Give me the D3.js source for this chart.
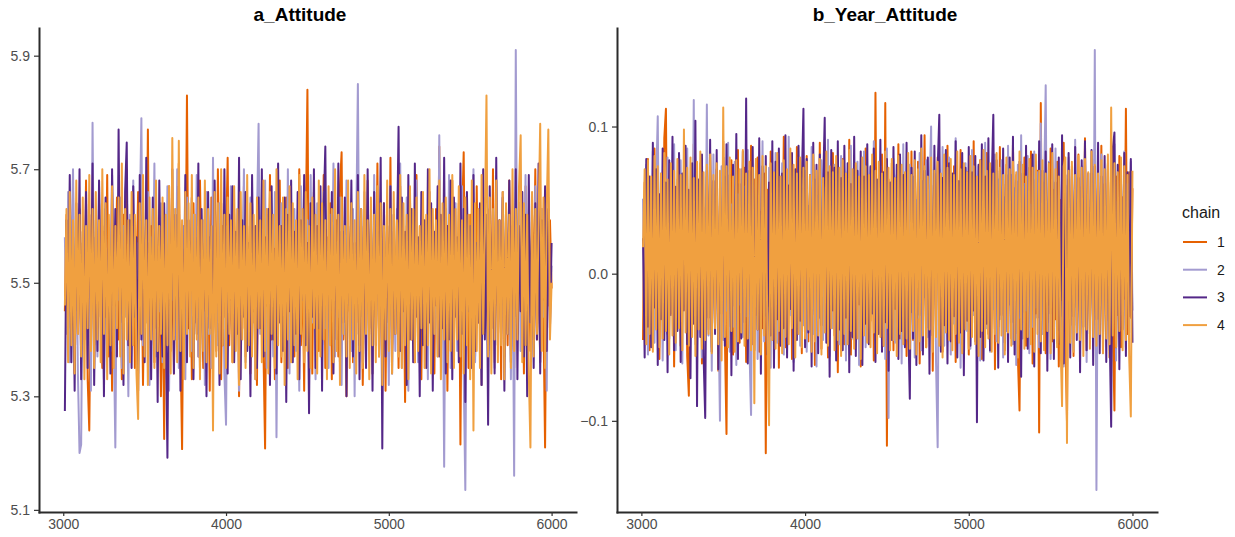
<!DOCTYPE html>
<html>
<head>
<meta charset="utf-8">
<script src="https://cdn.jsdelivr.net/npm/d3@7"></script>
<style>
  body { margin: 0; background: #fff; }
  text { font-family: "Liberation Sans", Arial, sans-serif; }
</style>
</head>
<body>
<svg id="chart" width="1235" height="537"></svg>
<script>
// trace plot, 4 chains, draws 3001-6000 (every 10th draw)
const chains = ["1", "2", "3", "4"];
const chainColors = ["#E66101", "#A39BD0", "#542788", "#F0A040"];
const thin = 10;
const iterFirst = 3001, iterLast = 6000;
const xTicks = [3000, 4000, 5000, 6000];
const aTicks = [5.1, 5.3, 5.5, 5.7, 5.9];
const bTicks = [-0.1, 0, 0.1];

// a_Attitude
const aChain1 = [
  5.45,5.62,5.38,5.58,5.49,5.66,5.34,5.55,5.41,5.63,5.36,5.57,5.47,5.68,5.33,5.24,5.52,5.61,5.39,5.56,
  5.42,5.64,5.51,5.35,5.59,5.44,5.69,5.37,5.54,5.31,5.6,5.46,5.65,5.4,5.53,5.33,5.62,5.48,5.7,5.38,
  5.57,5.43,5.61,5.35,5.5,5.66,5.41,5.58,5.32,5.55,5.45,5.77,5.39,5.6,5.47,5.36,5.63,5.42,5.56,5.3,
  5.52,5.225,5.6,5.44,5.67,5.38,5.55,5.34,5.62,5.48,5.71,5.4,5.207,5.58,5.46,5.83,5.42,5.57,5.33,5.64,
  5.45,5.59,5.37,5.68,5.5,5.35,5.61,5.43,5.56,5.31,5.65,5.41,5.54,5.38,5.7,5.47,5.33,5.6,5.44,5.57,
  5.72,5.39,5.53,5.36,5.63,5.46,5.58,5.3,5.55,5.42,5.67,5.37,5.6,5.49,5.34,5.64,5.43,5.57,5.32,5.66,
  5.44,5.59,5.38,5.208,5.62,5.47,5.69,5.4,5.55,5.33,5.61,5.45,5.68,5.36,5.52,5.42,5.65,5.35,5.58,5.48,
  5.63,5.37,5.56,5.43,5.7,5.39,5.54,5.31,5.6,5.84,5.41,5.57,5.34,5.66,5.46,5.52,5.38,5.62,5.44,5.69,
  5.35,5.58,5.42,5.64,5.33,5.55,5.47,5.61,5.37,5.67,5.73,5.4,5.53,5.3,5.59,5.45,5.63,5.36,5.56,5.43,
  5.66,5.39,5.6,5.32,5.54,5.48,5.68,5.41,5.57,5.34,5.62,5.44,5.71,5.37,5.55,5.46,5.64,5.31,5.58,5.42,
  5.72,5.38,5.53,5.45,5.61,5.35,5.67,5.43,5.56,5.29,5.6,5.48,5.65,5.4,5.52,5.36,5.69,5.44,5.58,5.33,
  5.62,5.47,5.55,5.38,5.66,5.42,5.59,5.34,5.63,5.45,5.74,5.37,5.54,5.41,5.6,5.31,5.57,5.46,5.68,5.39,
  5.56,5.44,5.64,5.215,5.61,5.73,5.4,5.58,5.35,5.62,5.47,5.53,5.37,5.67,5.43,5.59,5.32,5.65,5.45,5.55,
  5.38,5.63,5.42,5.7,5.36,5.57,5.46,5.61,5.33,5.66,5.44,5.54,5.39,5.68,5.48,5.6,5.35,5.58,5.41,5.64,
  5.45,5.59,5.34,5.67,5.43,5.56,5.38,5.62,5.47,5.7,5.4,5.55,5.36,5.63,5.44,5.21,5.58,5.46,5.61,5.49
];
const aChain2 = [
  5.58,5.41,5.66,5.36,5.53,5.7,5.44,5.6,5.34,5.2,5.215,5.57,5.46,5.64,5.39,5.55,5.31,5.782,5.43,5.61,
  5.37,5.67,5.48,5.59,5.33,5.63,5.45,5.54,5.38,5.69,5.42,5.21,5.56,5.47,5.65,5.35,5.6,5.44,5.52,5.3,
  5.62,5.4,5.68,5.46,5.57,5.34,5.61,5.79,5.39,5.55,5.43,5.66,5.32,5.58,5.48,5.71,5.37,5.53,5.45,5.64,
  5.36,5.59,5.42,5.67,5.31,5.56,5.47,5.63,5.4,5.7,5.35,5.54,5.44,5.6,5.33,5.65,5.49,5.57,5.38,5.62,
  5.43,5.69,5.37,5.55,5.46,5.61,5.32,5.66,5.41,5.58,5.35,5.72,5.44,5.53,5.39,5.64,5.47,5.57,5.34,5.25,
  5.6,5.42,5.67,5.38,5.56,5.45,5.63,5.31,5.59,5.48,5.7,5.36,5.54,5.43,5.65,5.4,5.58,5.33,5.61,5.78,
  5.41,5.57,5.46,5.68,5.35,5.62,5.44,5.55,5.37,5.66,5.228,5.59,5.48,5.64,5.39,5.53,5.42,5.7,5.34,5.6,
  5.45,5.63,5.38,5.56,5.31,5.67,5.47,5.58,5.4,5.61,5.36,5.69,5.43,5.55,5.33,5.64,5.46,5.6,5.39,5.66,
  5.42,5.54,5.35,5.62,5.48,5.71,5.37,5.57,5.44,5.65,5.32,5.59,5.41,5.68,5.46,5.56,5.38,5.63,5.3,5.6,
  5.85,5.43,5.58,5.36,5.66,5.47,5.55,5.39,5.62,5.34,5.69,5.45,5.57,5.41,5.64,5.37,5.6,5.48,5.53,5.32,
  5.67,5.44,5.59,5.38,5.63,5.46,5.71,5.35,5.56,5.42,5.65,5.31,5.58,5.47,5.61,5.4,5.68,5.36,5.54,5.45,
  5.62,5.39,5.57,5.33,5.66,5.48,5.6,5.41,5.55,5.37,5.76,5.44,5.58,5.176,5.63,5.46,5.69,5.35,5.56,5.42,
  5.64,5.38,5.59,5.45,5.67,5.34,5.135,5.61,5.47,5.55,5.4,5.7,5.36,5.57,5.43,5.62,5.32,5.65,5.46,5.58,
  5.39,5.63,5.44,5.56,5.35,5.68,5.48,5.6,5.41,5.66,5.37,5.54,5.45,5.62,5.33,5.59,5.16,5.91,5.42,5.64,
  5.38,5.57,5.46,5.69,5.34,5.61,5.43,5.55,5.4,5.67,5.47,5.58,5.36,5.63,5.44,5.6,5.31,5.65,5.45,5.53
];
const aChain3 = [
  5.274,5.61,5.42,5.69,5.36,5.57,5.31,5.64,5.45,5.7,5.33,5.59,5.4,5.66,5.35,5.62,5.47,5.71,5.32,5.58,
  5.38,5.68,5.44,5.6,5.3,5.65,5.41,5.56,5.34,5.7,5.46,5.63,5.37,5.77,5.43,5.59,5.32,5.66,5.747,5.39,
  5.61,5.35,5.67,5.44,5.58,5.31,5.69,5.4,5.63,5.36,5.72,5.45,5.57,5.33,5.65,5.42,5.6,5.29,5.68,5.47,
  5.37,5.64,5.43,5.192,5.59,5.46,5.7,5.34,5.62,5.4,5.67,5.31,5.56,5.44,5.69,5.36,5.61,5.48,5.65,5.33,
  5.58,5.41,5.71,5.35,5.63,5.45,5.57,5.3,5.66,5.42,5.6,5.37,5.68,5.46,5.55,5.32,5.64,5.39,5.7,5.43,
  5.34,5.62,5.47,5.67,5.36,5.59,5.41,5.72,5.33,5.61,5.44,5.66,5.38,5.57,5.3,5.69,5.45,5.6,5.35,5.65,
  5.42,5.7,5.37,5.58,5.46,5.63,5.32,5.67,5.4,5.56,5.34,5.71,5.43,5.6,5.38,5.65,5.29,5.62,5.45,5.68,
  5.36,5.59,5.41,5.66,5.33,5.61,5.47,5.69,5.39,5.57,5.27,5.64,5.44,5.7,5.35,5.6,5.42,5.67,5.31,5.63,
  5.74,5.38,5.58,5.45,5.66,5.34,5.62,5.4,5.71,5.36,5.59,5.43,5.65,5.3,5.6,5.46,5.68,5.37,5.57,5.41,
  5.69,5.33,5.63,5.44,5.58,5.35,5.7,5.42,5.61,5.31,5.66,5.39,5.59,5.46,5.72,5.208,5.64,5.37,5.6,5.43,
  5.67,5.34,5.62,5.41,5.57,5.775,5.38,5.65,5.45,5.59,5.32,5.69,5.4,5.63,5.36,5.71,5.44,5.58,5.3,5.66,
  5.39,5.61,5.35,5.7,5.43,5.64,5.31,5.59,5.46,5.67,5.37,5.62,5.42,5.72,5.34,5.6,5.4,5.68,5.33,5.65,
  5.44,5.58,5.36,5.71,5.41,5.63,5.29,5.66,5.45,5.6,5.35,5.69,5.38,5.57,5.43,5.64,5.32,5.7,5.4,5.62,
  5.25,5.67,5.42,5.59,5.34,5.72,5.39,5.61,5.46,5.65,5.31,5.63,5.41,5.68,5.36,5.58,5.44,5.7,5.33,5.6,
  5.45,5.66,5.37,5.62,5.3,5.69,5.43,5.59,5.35,5.64,5.4,5.71,5.34,5.61,5.47,5.67,5.38,5.63,5.42,5.57
];
const aChain4 = [
  5.46,5.63,5.36,5.66,5.39,5.61,5.34,5.68,5.41,5.62,5.37,5.65,5.33,5.6,5.42,5.69,5.38,5.63,5.35,5.66,
  5.4,5.61,5.36,5.7,5.41,5.64,5.33,5.62,5.39,5.67,5.35,5.6,5.42,5.65,5.37,5.71,5.34,5.63,5.4,5.61,
  5.36,5.66,5.39,5.62,5.34,5.26,5.64,5.41,5.69,5.37,5.61,5.32,5.65,5.4,5.63,5.35,5.68,5.38,5.6,5.41,
  5.65,5.35,5.62,5.39,5.67,5.34,5.755,5.4,5.63,5.36,5.75,5.38,5.61,5.33,5.66,5.41,5.64,5.37,5.69,5.35,
  5.62,5.4,5.65,5.33,5.61,5.38,5.68,5.36,5.63,5.41,5.6,5.24,5.66,5.37,5.64,5.34,5.7,5.39,5.62,5.35,
  5.65,5.41,5.61,5.36,5.67,5.38,5.63,5.32,5.66,5.4,5.6,5.35,5.69,5.39,5.64,5.37,5.62,5.33,5.65,5.42,
  5.61,5.36,5.68,5.38,5.63,5.34,5.66,5.41,5.62,5.35,5.7,5.39,5.6,5.37,5.65,5.32,5.63,5.4,5.67,5.36,
  5.64,5.39,5.61,5.33,5.69,5.41,5.63,5.36,5.66,5.38,5.6,5.35,5.65,5.42,5.62,5.34,5.68,5.37,5.64,5.4,
  5.61,5.33,5.67,5.39,5.63,5.36,5.7,5.38,5.62,5.32,5.65,5.41,5.6,5.37,5.68,5.35,5.64,5.4,5.61,5.34,
  5.66,5.38,5.63,5.35,5.69,5.41,5.61,5.33,5.65,5.39,5.62,5.36,5.67,5.37,5.64,5.32,5.6,5.4,5.68,5.38,
  5.63,5.34,5.66,5.41,5.61,5.37,5.69,5.35,5.64,5.39,5.62,5.33,5.67,5.4,5.63,5.36,5.65,5.38,5.6,5.42,
  5.66,5.35,5.62,5.39,5.7,5.34,5.63,5.41,5.61,5.37,5.68,5.33,5.64,5.4,5.65,5.36,5.62,5.38,5.69,5.35,
  5.63,5.4,5.67,5.37,5.61,5.34,5.65,5.39,5.62,5.33,5.68,5.24,5.64,5.38,5.63,5.35,5.69,5.41,5.6,5.83,
  5.37,5.65,5.34,5.63,5.4,5.68,5.36,5.61,5.39,5.66,5.33,5.64,5.41,5.62,5.35,5.7,5.38,5.63,5.4,5.67,
  5.76,5.36,5.64,5.39,5.62,5.34,5.21,5.66,5.37,5.63,5.41,5.61,5.78,5.38,5.65,5.35,5.63,5.77,5.4,5.5
];

// b_Year_Attitude
const bChain1 = [
  -0.045,0.062,-0.021,0.078,-0.052,0.041,-0.036,0.085,-0.012,0.067,-0.058,0.049,-0.029,0.092,0.112,-0.041,0.056,-0.018,0.073,-0.063,
  0.038,-0.027,0.081,-0.049,0.058,-0.015,0.069,-0.056,-0.083,0.047,-0.032,0.088,-0.044,0.061,-0.024,0.075,-0.061,0.043,-0.011,0.066,
  -0.038,0.082,-0.05,0.054,-0.02,0.071,-0.066,0.046,-0.03,0.09,-0.043,-0.109,0.063,-0.025,0.077,-0.055,0.039,-0.014,0.084,-0.047,
  0.059,-0.034,0.072,-0.06,0.045,-0.019,0.087,-0.048,0.064,-0.028,0.079,-0.053,0.042,-0.037,0.068,-0.122,0.057,-0.022,0.083,-0.045,
  0.051,-0.031,0.076,-0.064,0.044,-0.017,0.093,-0.05,0.06,-0.026,0.071,-0.058,0.037,-0.04,0.086,-0.023,0.065,-0.054,0.048,-0.035,
  0.08,-0.046,0.055,-0.013,0.074,-0.062,0.041,-0.029,0.089,-0.051,0.063,-0.02,0.069,-0.057,0.046,-0.033,0.082,-0.042,0.058,-0.067,
  0.036,-0.024,0.078,-0.048,0.066,-0.016,0.091,-0.055,0.05,-0.038,0.073,-0.027,0.061,-0.063,0.044,-0.021,0.085,-0.046,0.057,-0.032,
  0.07,-0.059,0.123,-0.036,0.052,-0.018,0.081,-0.049,0.116,-0.117,0.064,-0.026,0.075,-0.052,0.043,-0.035,0.088,-0.044,0.059,-0.02,
  0.068,-0.056,0.047,-0.03,0.083,-0.045,0.062,-0.015,0.076,-0.061,0.039,-0.028,0.094,-0.05,0.055,-0.023,0.071,-0.066,0.048,-0.037,
  0.079,-0.025,0.06,-0.053,0.045,-0.019,0.087,-0.043,0.066,-0.032,0.073,-0.06,0.051,-0.014,0.084,-0.048,0.058,-0.027,0.069,-0.055,
  0.042,-0.034,0.09,-0.046,0.063,-0.022,0.077,-0.058,0.049,-0.03,0.082,-0.041,0.056,-0.017,0.072,-0.065,0.04,-0.036,0.086,-0.024,
  0.061,-0.052,0.074,-0.029,0.053,-0.044,0.088,-0.02,0.067,-0.057,-0.093,0.046,-0.033,0.079,-0.049,0.058,-0.016,0.083,-0.061,0.044,
  -0.027,0.07,-0.108,0.116,-0.039,0.062,-0.054,0.047,-0.021,0.085,-0.046,0.057,-0.031,0.076,-0.063,0.05,-0.018,0.089,-0.042,-0.1,
  0.064,-0.035,0.073,-0.056,0.048,-0.023,0.081,-0.047,0.059,-0.015,0.092,-0.052,0.045,-0.038,0.068,-0.026,0.078,-0.06,0.054,-0.031,
  0.087,-0.044,0.061,-0.02,0.074,-0.057,0.043,-0.034,-0.093,0.066,-0.028,0.08,-0.05,0.052,-0.017,0.112,-0.041,0.069,-0.03,0.058
];
const bChain2 = [
  0.051,-0.038,0.074,-0.055,0.046,-0.022,0.083,-0.047,0.06,0.107,-0.031,0.068,-0.059,0.042,-0.016,0.079,-0.044,0.057,-0.027,0.088,
  -0.052,0.064,-0.035,0.077,-0.061,0.049,-0.019,0.085,-0.04,0.055,-0.028,0.118,-0.048,0.07,-0.033,0.062,-0.057,0.045,-0.024,0.115,
  -0.042,0.058,-0.066,0.081,-0.03,0.052,-0.018,-0.1,0.073,-0.045,0.066,-0.025,0.089,-0.053,0.047,-0.036,0.076,-0.062,0.054,-0.021,
  0.071,-0.043,0.059,-0.029,0.084,-0.05,-0.096,0.063,-0.034,0.078,-0.058,0.044,-0.019,0.09,-0.046,0.056,-0.026,0.072,-0.064,0.048,
  -0.032,0.082,-0.047,0.061,-0.022,0.075,-0.055,0.05,-0.038,0.093,-0.028,0.067,-0.06,0.043,-0.015,0.079,-0.049,0.058,-0.035,0.07,
  -0.053,0.046,-0.024,0.086,-0.041,0.064,-0.063,0.053,-0.03,0.077,-0.045,0.06,-0.02,0.091,-0.056,0.047,-0.037,0.074,-0.026,0.065,
  -0.048,0.08,-0.033,0.055,-0.059,0.069,-0.021,0.087,-0.044,0.051,-0.031,0.076,-0.062,0.058,-0.018,0.083,-0.05,0.063,-0.036,0.072,
  -0.027,0.09,-0.054,0.048,-0.04,0.073,-0.023,0.061,-0.058,0.085,-0.098,0.056,-0.032,0.078,-0.047,0.067,-0.019,0.054,-0.061,0.088,
  -0.035,0.059,-0.045,0.074,-0.026,0.066,-0.057,0.05,-0.03,0.082,-0.052,0.063,-0.016,0.077,-0.043,0.055,0.1,-0.038,0.068,-0.06,
  -0.118,0.071,-0.029,0.086,-0.049,0.057,-0.022,0.079,-0.055,0.045,-0.034,0.092,-0.046,0.062,-0.064,0.052,-0.02,0.075,-0.039,0.066,
  -0.051,0.084,-0.028,0.06,-0.042,0.073,-0.059,0.049,-0.017,0.089,-0.037,0.056,-0.053,0.07,-0.024,0.081,-0.046,0.064,-0.031,0.077,
  -0.057,0.052,-0.039,0.087,-0.021,0.067,-0.048,0.058,-0.062,0.074,-0.03,0.094,-0.044,0.061,-0.025,0.08,-0.054,0.047,-0.036,0.083,
  -0.023,0.069,-0.05,0.102,-0.041,0.056,0.128,-0.033,0.076,-0.058,0.063,-0.019,0.085,-0.047,0.053,-0.029,0.072,-0.063,0.06,-0.038,
  0.079,-0.026,0.066,-0.052,0.091,-0.035,0.058,-0.045,0.073,-0.018,0.084,-0.06,0.05,-0.031,0.068,-0.043,0.152,-0.147,0.062,-0.024,
  0.081,-0.054,0.057,-0.032,0.075,-0.047,0.064,-0.021,0.088,-0.059,0.049,-0.036,0.07,-0.028,0.083,-0.05,0.061,-0.04,0.076,-0.025
];
const bChain3 = [
  0.024,-0.057,0.078,-0.036,0.066,-0.05,0.089,-0.023,0.071,-0.062,0.054,-0.031,0.085,-0.045,0.062,-0.067,0.077,-0.028,0.093,-0.052,
  0.059,-0.039,0.082,-0.06,0.068,-0.025,0.087,-0.048,0.057,-0.071,0.075,-0.034,0.104,-0.09,0.064,-0.043,0.081,-0.056,-0.098,0.07,
  -0.03,0.091,-0.053,0.063,-0.041,0.084,-0.065,0.058,-0.027,0.079,-0.049,0.088,-0.036,0.067,-0.069,0.074,-0.022,0.095,-0.058,0.061,
  -0.044,0.083,-0.033,0.119,-0.061,0.07,-0.026,0.086,-0.052,0.065,-0.038,0.092,-0.068,0.073,-0.029,0.08,-0.055,0.062,-0.042,0.09,
  -0.064,0.076,-0.031,0.085,-0.049,0.068,-0.037,0.094,-0.057,0.06,-0.024,0.082,-0.066,0.071,-0.045,0.087,-0.032,0.063,0.112,-0.05,
  0.078,-0.04,0.067,-0.063,0.089,-0.028,0.074,-0.054,0.081,-0.035,0.058,0.106,-0.047,0.069,-0.07,0.084,-0.025,0.072,-0.059,0.09,
  -0.038,0.065,-0.052,0.087,-0.03,0.075,-0.067,0.061,-0.043,0.093,-0.056,0.07,-0.021,0.083,-0.062,0.066,-0.034,0.088,-0.048,0.073,
  -0.027,0.085,-0.06,0.064,-0.041,0.091,-0.053,0.069,-0.033,0.078,-0.066,0.062,-0.045,0.086,-0.024,0.074,-0.058,0.081,-0.039,0.067,
  -0.05,0.089,-0.031,-0.085,0.072,-0.044,0.083,-0.062,0.066,-0.028,0.094,-0.055,0.07,-0.037,0.079,-0.068,0.06,-0.042,0.087,-0.026,
  0.071,0.108,-0.053,0.065,-0.035,0.084,-0.061,0.075,-0.046,0.068,-0.029,0.09,-0.057,0.063,-0.04,0.082,-0.069,0.072,-0.032,0.086,
  -0.049,0.069,-0.025,0.08,-0.101,0.074,-0.043,0.088,-0.059,0.066,-0.034,0.092,-0.052,0.061,0.108,-0.038,0.077,-0.064,0.07,-0.028,
  0.085,-0.047,0.067,-0.06,0.079,-0.033,0.093,-0.055,0.063,-0.041,0.076,-0.07,0.068,-0.026,0.087,-0.051,0.072,-0.037,0.081,-0.063,
  0.064,-0.03,0.09,-0.054,0.07,-0.044,0.083,-0.066,0.075,-0.027,0.088,-0.058,0.062,-0.039,0.079,-0.048,0.094,-0.061,0.067,-0.035,
  0.082,-0.057,0.071,-0.029,0.086,-0.045,0.065,-0.067,0.077,-0.036,0.09,-0.052,0.068,-0.041,0.084,-0.062,0.073,-0.031,0.089,-0.054,
  0.066,-0.043,0.08,-0.06,0.071,-0.034,-0.104,0.085,0.096,-0.05,0.074,-0.065,0.063,-0.038,0.082,-0.056,0.069,-0.029,0.078,-0.047
];
const bChain4 = [
  0.018,0.071,-0.048,0.077,-0.041,0.066,-0.053,0.08,-0.038,0.073,-0.05,0.068,-0.044,0.082,-0.039,0.064,-0.055,0.075,-0.042,0.07,
  -0.047,0.078,-0.037,0.067,-0.052,0.098,-0.04,0.072,-0.049,0.079,-0.043,0.065,-0.056,0.076,-0.038,0.083,-0.051,0.069,-0.045,0.074,
  -0.041,0.081,-0.054,0.067,-0.037,0.075,-0.048,0.07,-0.059,0.113,-0.043,0.073,-0.05,0.079,-0.039,0.066,-0.053,0.077,-0.046,0.071,
  -0.04,0.084,-0.049,0.068,-0.044,0.076,-0.052,0.072,-0.088,0.078,-0.038,0.067,-0.055,0.08,-0.042,0.073,-0.047,-0.103,0.075,-0.045,
  0.069,-0.051,0.082,-0.039,0.066,-0.054,0.077,-0.043,0.071,-0.048,0.085,-0.037,0.074,-0.057,0.068,-0.041,0.079,-0.05,0.072,-0.044,
  0.076,-0.038,0.067,-0.053,0.081,-0.046,0.07,-0.042,0.078,-0.055,0.065,-0.04,0.083,-0.049,0.073,-0.037,0.069,-0.052,0.08,-0.045,
  0.072,-0.056,0.077,-0.041,0.068,-0.048,0.084,-0.039,0.071,-0.051,0.075,-0.044,0.066,-0.058,0.079,-0.042,0.073,-0.047,0.067,-0.05,
  0.081,-0.04,0.07,-0.054,0.076,-0.043,0.068,-0.049,0.083,-0.037,0.072,-0.052,0.078,-0.045,0.065,-0.056,0.08,-0.041,0.074,-0.048,
  0.069,-0.044,0.082,-0.051,0.067,-0.039,0.077,-0.055,0.071,-0.046,0.085,-0.042,0.073,-0.05,0.066,-0.038,0.079,-0.053,0.07,-0.043,
  0.076,-0.049,0.068,-0.057,0.081,-0.04,0.072,-0.045,0.078,-0.052,0.067,-0.041,0.083,-0.047,0.071,-0.054,0.075,-0.038,0.069,-0.051,
  0.08,-0.043,0.073,-0.048,0.066,-0.056,0.077,-0.039,0.084,-0.05,0.07,-0.044,0.075,-0.053,0.068,-0.041,0.082,-0.047,0.072,-0.042,
  0.067,-0.055,0.079,-0.04,0.071,-0.049,0.076,-0.045,0.069,-0.057,0.083,-0.038,0.074,-0.051,0.066,-0.043,0.078,-0.048,0.072,-0.053,
  0.081,-0.041,0.07,-0.046,0.077,-0.052,0.068,-0.039,0.075,-0.054,0.082,-0.044,0.071,-0.05,0.066,-0.042,-0.09,0.073,0.079,-0.115,
  0.07,-0.047,0.076,-0.053,0.067,-0.04,0.08,-0.045,0.072,-0.056,0.078,-0.038,0.069,-0.051,0.083,-0.043,0.074,-0.049,0.068,-0.041,
  0.077,-0.054,0.071,-0.044,0.081,-0.048,0.113,-0.042,0.075,-0.05,0.069,-0.039,0.079,-0.052,0.073,-0.045,0.067,-0.056,-0.097,0.07
];

const panels = [
  { title: "a_Attitude", titleX: 300, left: 39, right: 576,
    series: [aChain1, aChain2, aChain3, aChain4], ticks: aTicks },
  { title: "b_Year_Attitude", titleX: 885, left: 617, right: 1157,
    series: [bChain1, bChain2, bChain3, bChain4], ticks: bTicks }
];
const panelTop = 28, panelBottom = 512;

const svg = d3.select("#chart");
svg.append("rect").attr("width", 1235).attr("height", 537).attr("fill", "#fff");

panels.forEach(p => {
  // ggplot-style 5% expansion around the data
  const [lo, hi] = d3.extent(p.series.flat());
  const yPad = (hi - lo) * 0.05;
  const y = d3.scaleLinear().domain([lo - yPad, hi + yPad]).range([panelBottom, panelTop]);
  const xPad = (iterLast - iterFirst) * 0.05;
  const x = d3.scaleLinear().domain([iterFirst - xPad, iterLast + xPad]).range([p.left, p.right]);

  const line = d3.line()
    .x((d, i) => x(iterFirst - 1 + (i + 1) * thin))
    .y(d => y(d));

  const g = svg.append("g");
  p.series.forEach((s, k) => {
    g.append("path")
      .attr("d", line(s))
      .attr("fill", "none")
      .attr("stroke", chainColors[k])
      .attr("stroke-width", 2)
      .attr("stroke-linejoin", "round");
  });

  const xAxis = svg.append("g")
    .attr("transform", `translate(0,${panelBottom})`)
    .call(d3.axisBottom(x).tickValues(xTicks).tickSize(4).tickSizeOuter(0).tickPadding(3).tickFormat(d3.format("d")));
  const yAxis = svg.append("g")
    .attr("transform", `translate(${p.left},0)`)
    .call(d3.axisLeft(y).tickValues(p.ticks).tickSize(5).tickSizeOuter(0).tickPadding(4).tickFormat(d3.format(".1f")));

  [xAxis, yAxis].forEach(ax => {
    ax.select(".domain").attr("stroke", "#2b2b2b").attr("stroke-width", 2).attr("stroke-linecap", "square");
    ax.selectAll(".tick line").attr("stroke", "#333").attr("stroke-width", 1.2);
    ax.selectAll(".tick text").attr("fill", "#4d4d4d").style("font-size", "14px")
      .style("font-family", '"Liberation Sans", Arial, sans-serif');
  });

  svg.append("text")
    .attr("x", p.titleX).attr("y", 21)
    .attr("text-anchor", "middle")
    .style("font-size", "19px").style("font-weight", "bold")
    .attr("fill", "#000")
    .text(p.title);
});

// legend
const legend = svg.append("g");
legend.append("text").attr("x", 1182).attr("y", 218)
  .style("font-size", "16px").attr("fill", "#1a1a1a").text("chain");
chains.forEach((c, k) => {
  const ly = 242 + k * 27.7;
  legend.append("line")
    .attr("x1", 1183).attr("x2", 1207).attr("y1", ly).attr("y2", ly)
    .attr("stroke", chainColors[k]).attr("stroke-width", 2);
  legend.append("text").attr("x", 1221).attr("y", ly + 5)
    .attr("text-anchor", "middle")
    .style("font-size", "14px").attr("fill", "#1a1a1a").text(c);
});
</script>
</body>
</html>
